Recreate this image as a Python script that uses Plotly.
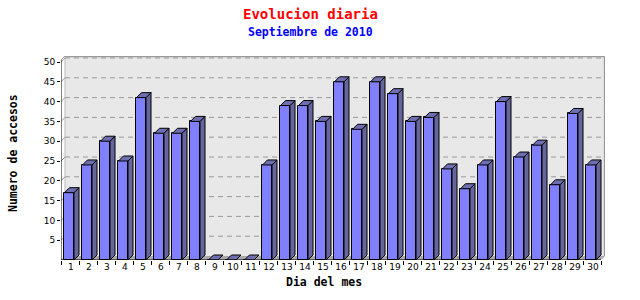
import plotly.graph_objects as go

# ---- data ----
days = list(range(1, 31))
day_labels = [str(d) for d in days]
accesos = [17, 24, 30, 25, 41, 32, 32, 35, 0, 0, 0, 24, 39, 39, 35,
           45, 33, 45, 42, 35, 36, 23, 18, 24, 40, 26, 29, 19, 37, 24]
y_ticks = [5, 10, 15, 20, 25, 30, 35, 40, 45, 50]

title_text = "Evolucion diaria"
subtitle_text = "Septiembre de 2010"
x_title = "Dia del mes"
y_title = "Numero de accesos"

# ---- geometry (in axis units) ----
PX_X = 18.0          # px per category
PX_Y = 3.96          # px per access unit
L, R, T, B = 61, 35, 56, 40
W = 640 - L - R
H = 300 - T - B
x0 = 0.5
x1 = x0 + W / PX_X
ymax = H / PX_Y

bar_dx = 5 / PX_X
bar_dy = 5 / PX_Y
pl_dx = 4 / PX_X
pl_dy = 4 / PX_Y

f_left = 0.194
f_right = 0.722
bar_w = f_right - f_left

FRONT = "#8080FF"
SIDE = "#66669E"
TOP = "#6E6EB0"

fig = go.Figure()

# front faces
centers = [d - 0.5 + (f_left + f_right) / 2 for d in days]
fig.add_trace(go.Bar(x=centers, y=accesos, width=bar_w,
                     marker=dict(color=FRONT, line=dict(color="black", width=1)),
                     hoverinfo="skip", showlegend=False))

# side and top faces
sx, sy, tx, ty = [], [], [], []
for d, v in zip(days, accesos):
    xl = d - 0.5 + f_left
    xr = d - 0.5 + f_right
    if v > 0:
        sx += [xr, xr + bar_dx, xr + bar_dx, xr, xr, None]
        sy += [0, bar_dy, v + bar_dy, v, 0, None]
    tx += [xl, xl + bar_dx, xr + bar_dx, xr, xl, None]
    ty += [v, v + bar_dy, v + bar_dy, v, v, None]

fig.add_trace(go.Scatter(x=sx, y=sy, mode="lines", fill="toself", fillcolor=SIDE,
                         line=dict(color="black", width=1), hoverinfo="skip",
                         showlegend=False))
fig.add_trace(go.Scatter(x=tx, y=ty, mode="lines", fill="toself", fillcolor=TOP,
                         line=dict(color="black", width=1), hoverinfo="skip",
                         showlegend=False))
# invisible trace for tick-mark axis
fig.add_trace(go.Scatter(x=[x0], y=[0], xaxis="x2", mode="markers",
                         marker=dict(opacity=0), hoverinfo="skip", showlegend=False))

shapes = []
# back plane
shapes.append(dict(type="rect", xref="x", yref="y", x0=x0 + pl_dx, x1=x1,
                   y0=pl_dy, y1=ymax, fillcolor="#E8E8E8",
                   line=dict(width=0), layer="below"))
GRAY = "#999999"
# back plane borders
shapes.append(dict(type="line", xref="x", yref="y", x0=x0 + pl_dx, x1=x1 - 0.02,
                   y0=ymax - 0.15, y1=ymax - 0.15, line=dict(color=GRAY, width=1.2), layer="below"))
shapes.append(dict(type="line", xref="x", yref="y", x0=x1 - 0.03, x1=x1 - 0.03,
                   y0=pl_dy, y1=ymax - 0.15, line=dict(color=GRAY, width=1.2), layer="below"))
shapes.append(dict(type="line", xref="x", yref="y", x0=x0 + pl_dx, x1=x0 + pl_dx,
                   y0=pl_dy, y1=ymax, line=dict(color="#BBBBBB", width=1), layer="below"))
# left wall top diagonal
axis_top = ymax - pl_dy
shapes.append(dict(type="line", xref="x", yref="y", x0=x0, x1=x0 + pl_dx,
                   y0=axis_top, y1=ymax, line=dict(color=GRAY, width=1), layer="below"))
# gridlines
for v in y_ticks:
    shapes.append(dict(type="line", xref="x", yref="y", x0=x0 + pl_dx, x1=x1 - 0.05,
                       y0=v + pl_dy, y1=v + pl_dy,
                       line=dict(color=GRAY, width=1, dash="5px,4px"), layer="below"))
    shapes.append(dict(type="line", xref="x", yref="y", x0=x0, x1=x0 + pl_dx,
                       y0=v, y1=v + pl_dy, line=dict(color=GRAY, width=1), layer="below"))
# floor
shapes.append(dict(type="path", xref="x", yref="y",
                   path=f"M {x0},0 L {x0 + pl_dx},{pl_dy} L {x1},{pl_dy} L {x1 - pl_dx},0 Z",
                   fillcolor="#A8A8A8", line=dict(width=0), layer="below"))
# axis lines
shapes.append(dict(type="line", xref="x", yref="y", x0=x0, x1=x0, y0=0, y1=axis_top,
                   line=dict(color="black", width=1)))
shapes.append(dict(type="line", xref="x", yref="y", x0=x0, x1=30.5, y0=0, y1=0,
                   line=dict(color="black", width=1)))

MONO = "DejaVu Sans Mono"
annotations = [
    dict(text=f"<b>{title_text}</b>", xref="paper", yref="paper",
         x=(310 - L) / W, y=(T + H - 14) / H, showarrow=False,
         xanchor="center", yanchor="middle",
         font=dict(family=MONO, size=14, color="#FF0000")),
    dict(text=f"<b>{subtitle_text}</b>", xref="paper", yref="paper",
         x=(310 - L) / W, y=(T + H - 32) / H, showarrow=False,
         xanchor="center", yanchor="middle",
         font=dict(family=MONO, size=11.5, color="#0000FF")),
    dict(text=f"<b>{x_title}</b>", xref="paper", yref="paper",
         x=(324 - L) / W, y=(T + H - 282) / H, showarrow=False,
         xanchor="center", yanchor="middle",
         font=dict(family=MONO, size=11.5, color="black")),
    dict(text=f"<b>{y_title}</b>", xref="paper", yref="paper",
         x=(13 - L) / W, y=(T + H - 153) / H, showarrow=False, textangle=-90,
         xanchor="center", yanchor="middle",
         font=dict(family=MONO, size=11.5, color="black")),
]

fig.update_layout(
    width=640, height=300,
    margin=dict(l=L, r=R, t=T, b=B, pad=0),
    paper_bgcolor="white", plot_bgcolor="white",
    showlegend=False,
    bargap=0,
    shapes=shapes,
    annotations=annotations,
    font=dict(family="DejaVu Sans", size=9, color="black"),
    xaxis=dict(range=[x0, x1], tickmode="array", tickvals=[d + 0.05 for d in days],
               ticktext=day_labels, ticks="", showgrid=False, zeroline=False,
               showline=False, fixedrange=True,
               tickfont=dict(family="DejaVu Sans", size=9, color="black")),
    xaxis2=dict(range=[x0, x1], overlaying="x", side="bottom", anchor="y",
                tickmode="array", tickvals=[d + 0.5 for d in [0] + days],
                ticks="outside", ticklen=4, tickcolor="black", tickwidth=1,
                showticklabels=False, showgrid=False, zeroline=False, showline=False),
    yaxis=dict(range=[0, ymax], tickmode="array", tickvals=y_ticks,
               ticktext=[str(v) for v in y_ticks],
               ticks="outside", ticklen=3, tickcolor="black", showgrid=False,
               zeroline=False, showline=False, fixedrange=True,
               tickfont=dict(family="DejaVu Sans", size=9, color="black")),
)

fig.write_html("out.html")
